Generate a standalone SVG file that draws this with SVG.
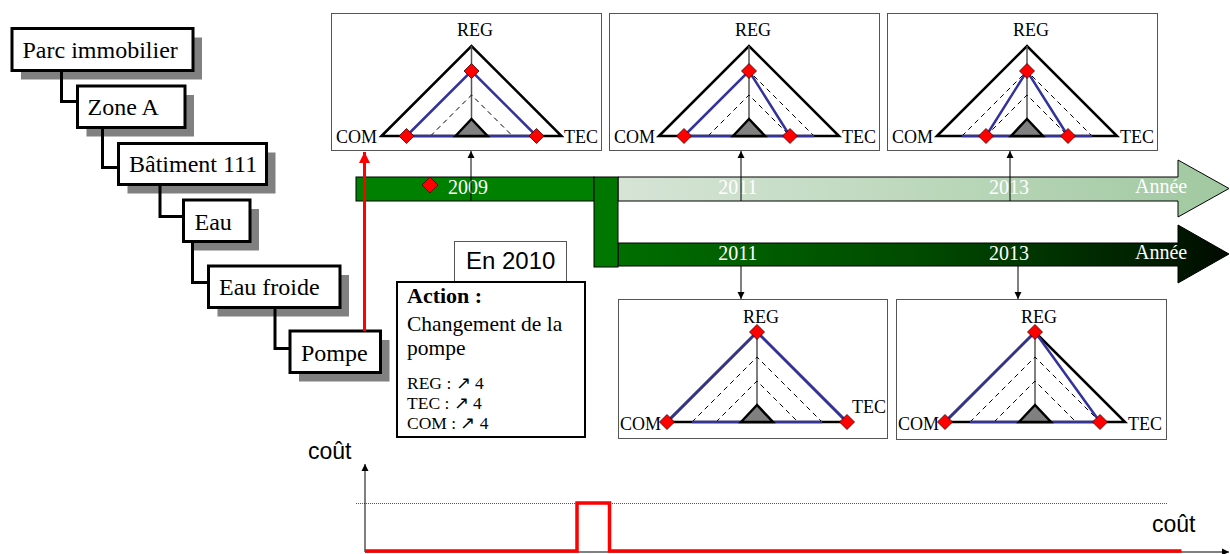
<svg xmlns="http://www.w3.org/2000/svg" xmlns:xlink="http://www.w3.org/1999/xlink" width="1230" height="554" viewBox="0 0 1230 554">
<style>
.hbox{fill:#fff;stroke:#000;stroke-width:3}
.shadow{fill:#808080;stroke:none}
.htxt{font-family:"Liberation Serif","Times New Roman",serif;font-size:24px;fill:#000}
.panel{fill:#fff;stroke:#555;stroke-width:1}
.outer{fill:none;stroke:#000;stroke-width:2.5;stroke-linejoin:miter}
.axis{stroke:#555;stroke-width:1.5}
.dash{fill:none;stroke:#000;stroke-width:1;stroke-dasharray:5,4}
.blue{fill:none;stroke:#333399;stroke-width:2.5}
.grey{fill:#808080;stroke:#000;stroke-width:2.5}
.dia{fill:#ff0000;stroke:#400;stroke-width:0.8}
.lbl{font-family:"Liberation Serif","Times New Roman",serif;font-size:18px;fill:#000}
.yr{font-family:"Liberation Serif","Times New Roman",serif;font-size:20px;fill:#fff}
.conn{fill:none;stroke:#000;stroke-width:3}
.thin{fill:none;stroke:#000;stroke-width:1}
.act{font-family:"Liberation Serif","Times New Roman",serif;fill:#000}
.sans{font-family:"Liberation Sans",Arial,sans-serif;fill:#000}
</style>
<defs>
<linearGradient id="gLight" x1="0" y1="0" x2="1" y2="0">
<stop offset="0" stop-color="#d6e4d6"/>
<stop offset="0.5" stop-color="#bcd8bc"/>
<stop offset="1" stop-color="#a0c8a0"/>
</linearGradient>
<linearGradient id="gDark" x1="0" y1="0" x2="1" y2="0">
<stop offset="0" stop-color="#006e00"/>
<stop offset="0.5" stop-color="#004a00"/>
<stop offset="0.85" stop-color="#002200"/>
<stop offset="1" stop-color="#000a00"/>
</linearGradient>
<marker id="ah" viewBox="0 0 10 10" refX="10" refY="5" markerWidth="7" markerHeight="8" orient="auto" markerUnits="userSpaceOnUse">
<path d="M0,0 L10,5 L0,10 Z" fill="#000"/>
</marker>
<marker id="ahr" viewBox="0 0 10 10" refX="10" refY="5" markerWidth="11" markerHeight="11" orient="auto" markerUnits="userSpaceOnUse">
<path d="M0,0 L10,5 L0,10 Z" fill="#ff0000"/>
</marker>
<path id="dia" d="M0,-7.5 L7.5,0 L0,7.5 L-7.5,0 Z" class="dia"/>
</defs>
<rect width="1230" height="554" fill="#fff"/>

<!-- hierarchy nodes -->
<g id="n-parc">
<rect class="shadow" x="21" y="37.5" width="181" height="42"/>
<rect class="hbox" x="12" y="28.5" width="181" height="42"/>
<text class="htxt" x="22.5" y="57.5">Parc immobilier</text>
</g>
<g id="n-zone">
<rect class="shadow" x="86.5" y="95" width="107.5" height="41.5"/>
<rect class="hbox" x="77.5" y="86" width="107.5" height="41.5"/>
<text class="htxt" x="87.5" y="114.5">Zone A</text>
</g>
<g id="n-bat">
<rect class="shadow" x="127.5" y="152.5" width="148" height="41"/>
<rect class="hbox" x="118.5" y="143.5" width="148" height="41"/>
<text class="htxt" x="129" y="171.5">Bâtiment 111</text>
</g>
<g id="n-eau">
<rect class="shadow" x="192.5" y="209" width="66.5" height="41.5"/>
<rect class="hbox" x="183.5" y="200" width="66.5" height="41.5"/>
<text class="htxt" x="194.5" y="230">Eau</text>
</g>
<g id="n-eaufroide">
<rect class="shadow" x="217.5" y="275" width="131.5" height="41.5"/>
<rect class="hbox" x="208.5" y="266" width="131.5" height="41.5"/>
<text class="htxt" x="219" y="295">Eau froide</text>
</g>
<g id="n-pompe">
<rect class="shadow" x="299" y="340" width="90.5" height="41.5"/>
<rect class="hbox" x="290" y="331" width="90.5" height="41.5"/>
<text class="htxt" x="301" y="360.5">Pompe</text>
</g>

<!-- timeline -->
<g id="timeline">
<rect x="356" y="177" width="238" height="24" fill="#008000" stroke="#000" stroke-width="1"/>
<path d="M618,177 H1178 V160 L1229,188.5 L1178,217 V201 H618 Z" fill="url(#gLight)" stroke="#000" stroke-width="1"/>
<path d="M618,243 H1178 V225 L1229,254 L1178,283 V266 H618 Z" fill="url(#gDark)" stroke="#000" stroke-width="1"/>
<rect x="594" y="177" width="24" height="90" fill="#007800" stroke="#000" stroke-width="1"/>
<text class="yr" x="448" y="193.5">2009</text>
<text class="yr" x="738" y="193.5" text-anchor="middle">2011</text>
<text class="yr" x="1009" y="193.5" text-anchor="middle">2013</text>
<text class="yr" x="1135" y="193">Année</text>
<text class="yr" x="738" y="260" text-anchor="middle">2011</text>
<text class="yr" x="1009" y="259.5" text-anchor="middle">2013</text>
<text class="yr" x="1135" y="259">Année</text>
<path d="M430,177 L438,185 L430,193 L422,185 Z" class="dia"/>
</g>

<!-- top panel 1 -->
<g id="t2009">
<rect class="panel" x="331.5" y="13.5" width="270" height="137"/>
<polygon class="outer" points="381.5,136 471.5,46 561.5,136"/>
<line class="axis" x1="471.5" y1="46" x2="471.5" y2="136"/>
<polyline class="dash" points="406.5,136 471.5,71 536.5,136"/>
<polyline class="dash" points="430.5,136 471.5,95 512.5,136"/>
<polyline class="blue" points="406.5,136 471.5,71 536.5,136"/>
<line class="blue" x1="406.5" y1="136" x2="536.5" y2="136"/>
<polygon class="grey" points="455.5,136 471.5,119 487.5,136"/>
<use href="#dia" x="471.5" y="71"/>
<use href="#dia" x="406.5" y="136"/>
<use href="#dia" x="536.5" y="136"/>
<text class="lbl" x="475" y="36" text-anchor="middle">REG</text>
<text class="lbl" x="377" y="143" text-anchor="end">COM</text>
<text class="lbl" x="564" y="143">TEC</text>
</g>

<!-- top panel 2 -->
<g id="t2011a">
<rect class="panel" x="609.5" y="13.5" width="270" height="137"/>
<polygon class="outer" points="659,136 749,46 839,136"/>
<line class="axis" x1="749" y1="46" x2="749" y2="136"/>
<polyline class="dash" points="684,136 749,71 814,136"/>
<polyline class="dash" points="708,136 749,95 790,136"/>
<polyline class="blue" points="684,136 749,71 790,136"/>
<line class="blue" x1="684" y1="136" x2="814" y2="136"/>
<polygon class="grey" points="733,136 749,119 765,136"/>
<use href="#dia" x="749" y="71"/>
<use href="#dia" x="684" y="136"/>
<use href="#dia" x="790" y="136"/>
<text class="lbl" x="753" y="36" text-anchor="middle">REG</text>
<text class="lbl" x="655" y="143" text-anchor="end">COM</text>
<text class="lbl" x="842" y="143">TEC</text>
</g>

<!-- top panel 3 -->
<g id="t2013a">
<rect class="panel" x="887.5" y="13.5" width="270" height="137"/>
<polygon class="outer" points="937,136 1027,46 1117,136"/>
<line class="axis" x1="1027" y1="46" x2="1027" y2="136"/>
<polyline class="dash" points="962,136 1027,71 1092,136"/>
<polyline class="dash" points="986,136 1027,95 1068,136"/>
<polyline class="blue" points="986,136 1027,71 1068,136"/>
<line class="blue" x1="962" y1="136" x2="1092" y2="136"/>
<polygon class="grey" points="1011,136 1027,119 1043,136"/>
<use href="#dia" x="1027" y="71"/>
<use href="#dia" x="986" y="136"/>
<use href="#dia" x="1068" y="136"/>
<text class="lbl" x="1031" y="36" text-anchor="middle">REG</text>
<text class="lbl" x="933" y="143" text-anchor="end">COM</text>
<text class="lbl" x="1120" y="143">TEC</text>
</g>

<!-- bottom panel 1 -->
<g id="t2011b">
<rect class="panel" x="618.5" y="299.5" width="269" height="139"/>
<polygon class="outer" points="667,422 757,332 847,422"/>
<line class="axis" x1="757" y1="332" x2="757" y2="422"/>
<polyline class="dash" points="692,422 757,357 822,422"/>
<polyline class="dash" points="716,422 757,381 798,422"/>
<text class="lbl" x="761" y="323" text-anchor="middle">REG</text>
<text class="lbl" x="620" y="430">COM</text>
<text class="lbl" x="852" y="413">TEC</text>
<polyline class="blue" points="667,422 757,332 847,422"/>
<line class="blue" x1="692" y1="422" x2="822" y2="422"/>
<polygon class="grey" points="741,422 757,405 773,422"/>
<use href="#dia" x="757" y="332"/>
<use href="#dia" x="667" y="422"/>
<use href="#dia" x="847" y="422"/>
</g>

<!-- bottom panel 2 -->
<g id="t2013b">
<rect class="panel" x="896.5" y="299.5" width="270" height="140"/>
<polygon class="outer" points="945,422 1035,332 1125,422"/>
<line class="axis" x1="1035" y1="332" x2="1035" y2="422"/>
<polyline class="dash" points="970,422 1035,357 1100,422"/>
<polyline class="dash" points="994,422 1035,381 1076,422"/>
<text class="lbl" x="1039" y="323" text-anchor="middle">REG</text>
<text class="lbl" x="898" y="430">COM</text>
<text class="lbl" x="1128" y="430">TEC</text>
<polyline class="blue" points="945,422 1035,332 1100,422"/>
<line class="blue" x1="970" y1="422" x2="1100" y2="422"/>
<polygon class="grey" points="1019,422 1035,405 1051,422"/>
<use href="#dia" x="1035" y="332"/>
<use href="#dia" x="945" y="422"/>
<use href="#dia" x="1100" y="422"/>
</g>

<!-- action -->
<g id="action">
<rect x="454.5" y="241.5" width="112" height="45" fill="#fff" stroke="#555" stroke-width="1"/>
<text class="sans" x="466" y="269" font-size="24">En 2010</text>
<rect x="397" y="282" width="188" height="155" fill="#fff" stroke="#000" stroke-width="2"/>
<text class="act" x="407" y="303" font-size="22" font-weight="bold">Action :</text>
<text class="act" x="407" y="331" font-size="21.5">Changement de la</text>
<text class="act" x="407" y="355" font-size="21.5">pompe</text>
<text class="act" x="407" y="389" font-size="17.5">REG : ↗ 4</text>
<text class="act" x="407" y="409" font-size="17.5">TEC : ↗ 4</text>
<text class="act" x="407" y="429" font-size="17.5">COM : ↗ 4</text>
</g>

<!-- cost chart -->
<g id="cost">
<text class="sans" x="308" y="458.5" font-size="23">coût</text>
<line x1="356" y1="503.5" x2="1167" y2="503.5" stroke="#555" stroke-width="1" stroke-dasharray="1,1"/>
<line class="thin" x1="365" y1="552" x2="365" y2="464" marker-end="url(#ah)"/>
<line class="thin" x1="365" y1="552" x2="1229" y2="552" marker-end="url(#ah)"/>
<polyline points="365,551 577,551 577,503 609.5,503 609.5,551 1181.5,551" fill="none" stroke="#ff0000" stroke-width="3.5"/>
<text class="sans" x="1152" y="531.5" font-size="23">coût</text>
</g>

<!-- connectors -->
<g id="connectors">
<path class="conn" d="M61.5,70.5 V101.5 H77.5"/>
<path class="conn" d="M102.5,127.5 V167.5 H118.5"/>
<path class="conn" d="M160,184.5 V216.5 H183.5"/>
<path class="conn" d="M192.5,241.5 V282.5 H208.5"/>
<path class="conn" d="M275,307.5 V348.5 H290"/>
<line x1="364.5" y1="331" x2="364.5" y2="152" stroke="#ff0000" stroke-width="3" marker-end="url(#ahr)"/>
<line class="thin" x1="471" y1="201" x2="471" y2="151" marker-end="url(#ah)"/>
<line class="thin" x1="741" y1="201" x2="741" y2="151" marker-end="url(#ah)"/>
<line class="thin" x1="1010" y1="201" x2="1010" y2="151" marker-end="url(#ah)"/>
<line class="thin" x1="741" y1="266" x2="741" y2="299" marker-end="url(#ah)"/>
<line class="thin" x1="1018" y1="266" x2="1018" y2="299" marker-end="url(#ah)"/>
</g>
</svg>
